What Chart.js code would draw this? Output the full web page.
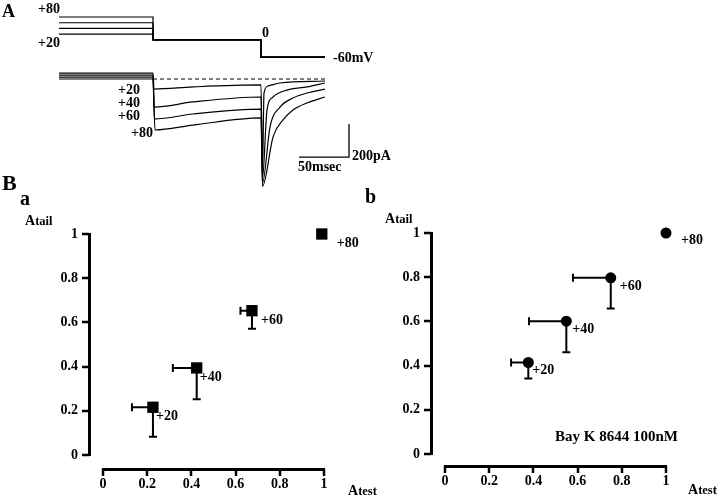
<!DOCTYPE html>
<html>
<head>
<meta charset="utf-8">
<script src="https://cdn.jsdelivr.net/npm/chart.js@4.4.1/dist/chart.umd.min.js"></script>
<style>
  body { margin: 0; background: #fff; }
  #fig { position: relative; width: 720px; height: 499px; overflow: hidden;
         font-family: 'Liberation Serif', 'Times New Roman', serif; font-weight: bold; color: #000; }
  .box { position: absolute; }
  .box canvas { display: block; }
  .t { position: absolute; white-space: nowrap; line-height: 1; font-size: 14px; }
  .sub { font-size: 12.5px; }
</style>
</head>
<body>
<div id="fig">
  <div class="box" style="left:0;top:0;width:400px;height:195px"><canvas id="chartA" width="400" height="195"></canvas></div>
  <div class="box" style="left:0;top:200px;width:360px;height:299px"><canvas id="chartBa" width="360" height="299"></canvas></div>
  <div class="box" style="left:360px;top:200px;width:360px;height:299px"><canvas id="chartBb" width="360" height="299"></canvas></div>

  <!-- panel A text -->
  <div class="t" style="left:2px;top:2px;font-size:18px">A</div>
  <div class="t" style="left:38px;top:2px">+80</div>
  <div class="t" style="left:38px;top:36px">+20</div>
  <div class="t" style="left:262px;top:26px">0</div>
  <div class="t" style="left:333px;top:51px">-60mV</div>
  <div class="t" style="left:118px;top:83px">+20</div>
  <div class="t" style="left:118px;top:96px">+40</div>
  <div class="t" style="left:118px;top:109px">+60</div>
  <div class="t" style="left:131px;top:126px">+80</div>
  <div class="t" style="left:352px;top:149px">200pA</div>
  <div class="t" style="left:298px;top:160px">50msec</div>

  <!-- panel B text -->
  <div class="t" style="left:2px;top:172px;font-size:22px">B</div>
  <div class="t" style="left:20px;top:188px;font-size:20px">a</div>
  <div class="t" style="left:365px;top:186px;font-size:20px">b</div>
  <div class="t" style="left:25px;top:214px;font-size:14px">A<span class="sub">tail</span></div>
  <div class="t" style="left:385px;top:212px;font-size:14px">A<span class="sub">tail</span></div>
  <div class="t" style="left:348px;top:484px;font-size:14px">A<span class="sub">test</span></div>
  <div class="t" style="left:688px;top:483px;font-size:14px">A<span class="sub">test</span></div>
  <div class="t" style="left:555px;top:429px;font-size:15px">Bay K 8644 100nM</div>
</div>

<script>
// ---------- panel A: voltage protocol (mV) and currents (pA), time in ms ----------
var prepulseLevels = [80, 60, 40, 20];
var testLevel = 0;
var tailLevel = -60;
var protocolTimes = [-94, 0, 108, 172]; // prepulse start, step to test, step to tail, end

var time20 = [-94, 0, 1, 40, 108, 109.5, 111, 115, 127, 172];
var curr20 = [36, 36, -61, -48, -36, -560, -85, -42, -24, -12];
var time40 = [-94, 0, 1, 40, 108, 109.5, 114, 120, 134, 154, 172];
var curr40 = [24, 24, -170, -139, -109, -600, -188, -109, -67, -48, -24];
var time60 = [-94, 0, 1.5, 40, 108, 109.5, 117, 127, 140, 154, 172];
var curr60 = [12, 12, -242, -212, -182, -630, -291, -170, -115, -85, -61];
var time80 = [-94, 0, 2, 40, 108, 109.5, 120, 130, 140, 154, 172];
var curr80 = [0, 0, -309, -279, -236, -650, -352, -248, -188, -145, -109];

var zeroTimes = [0, 172];
var zeroCurr = [0, 0];
var scaleBarT = [146, 196, 196];   // 50 msec
var scaleBarI = [-473, -473, -273]; // 200 pA

// ---------- panel B: normalised amplitudes ----------
var stepLabels = ['+20', '+40', '+60', '+80'];

// a: control
var testA = [0.226, 0.424, 0.674, 0.99];
var tailA = [0.216, 0.394, 0.653, 1.0];
var testErrA = [0.095, 0.108, 0.052, 0];
var tailErrA = [0.133, 0.142, 0.082, 0];

// b: Bay K 8644 100nM
var testB = [0.377, 0.549, 0.75, 1.0];
var tailB = [0.414, 0.601, 0.797, 1.0];
var testErrB = [0.078, 0.169, 0.171, 0];
var tailErrB = [0.072, 0.141, 0.139, 0];

function pts(xs, ys) {
    return xs.map(function (v, i) { return { x: v, y: ys[i] }; });
}

function line(data, axis, extra) {
    var ds = {
        data: data,
        yAxisID: axis,
        showLine: true,
        borderColor: '#000',
        borderWidth: 1.2,
        pointRadius: 0,
        fill: false
    };
    return Object.assign(ds, extra || {});
}

var datasetsA = [];
prepulseLevels.forEach(function (v) {
    var t = protocolTimes;
    datasetsA.push(line(pts([t[0], t[1], t[1], t[2], t[2], t[3]],
        [v, v, testLevel, testLevel, tailLevel, tailLevel]), 'yV'));
});
[[time20, curr20], [time40, curr40], [time60, curr60], [time80, curr80]].forEach(function (tr) {
    datasetsA.push(line(pts(tr[0], tr[1]), 'yI', { cubicInterpolationMode: 'monotone' }));
});
datasetsA.push(line(pts(zeroTimes, zeroCurr), 'yI', { borderDash: [4, 3], borderWidth: 1 }));
datasetsA.push(line(pts(scaleBarT, scaleBarI), 'yI', { borderWidth: 1.3 }));

new Chart(document.getElementById('chartA'), {
    type: 'scatter',
    data: { datasets: datasetsA },
    options: {
        responsive: false,
        animation: false,
        layout: { padding: 0 },
        plugins: { legend: { display: false }, tooltip: { enabled: false } },
        scales: {
            x: { type: 'linear', display: false, min: -153, max: 247 },
            yV: { type: 'linear', display: false, min: -542, max: 139.5 },
            yI: { type: 'linear', display: false, min: -703, max: 479 }
        }
    }
});

// ---------- helpers for the B panels ----------
var tickFont = { family: 'Liberation Serif', size: 14, weight: 'bold' };
var TICK_LEN = 7;

function axis(isX, size) {
    return {
        type: 'linear',
        min: 0,
        max: 1,
        ticks: {
            stepSize: 0.2,
            color: '#000',
            font: tickFont,
            padding: isX ? 7 : 11,
            callback: function (v) { return String(+v.toFixed(1)); }
        },
        grid: { display: false, drawTicks: false },
        border: { display: true, color: '#000', width: 3 },
        afterFit: function (scale) {
            if (isX) scale.height = size; else scale.width = size;
        }
    };
}

// detached axes: move axis lines away from the data area and add tick marks
function detachAxes(gapX, gapY) {
    return {
        id: 'detachAxes',
        afterLayout: function (chart) {
            chart.scales.y.left -= gapY;
            chart.scales.y.right -= gapY;
            chart.scales.x.top += gapX;
            chart.scales.x.bottom += gapX;
        },
        afterDraw: function (chart) {
            var ctx = chart.ctx, xs = chart.scales.x, ys = chart.scales.y;
            ctx.save();
            ctx.strokeStyle = '#000';
            ctx.lineWidth = 2.5;
            ctx.beginPath();
            xs.ticks.forEach(function (t) {
                var px = Math.round(xs.getPixelForValue(t.value));
                ctx.moveTo(px, xs.top);
                ctx.lineTo(px, xs.top + TICK_LEN);
            });
            ys.ticks.forEach(function (t) {
                var py = Math.round(ys.getPixelForValue(t.value));
                ctx.moveTo(ys.right, py);
                ctx.lineTo(ys.right - TICK_LEN, py);
            });
            ctx.stroke();
            ctx.restore();
        }
    };
}

// one-sided error bars: to the left and downwards
var errorBars = {
    id: 'errorBars',
    beforeDatasetsDraw: function (chart, args, opts) {
        var ctx = chart.ctx, xs = chart.scales.x, ys = chart.scales.y;
        var data = chart.data.datasets[0].data;
        ctx.save();
        ctx.strokeStyle = '#000';
        ctx.lineWidth = 2;
        data.forEach(function (p, i) {
            var px = xs.getPixelForValue(p.x), py = ys.getPixelForValue(p.y);
            ctx.beginPath();
            if (opts.xErr[i]) {
                var lx = xs.getPixelForValue(p.x - opts.xErr[i]);
                ctx.moveTo(px, py); ctx.lineTo(lx, py);
                ctx.moveTo(lx, py - 4); ctx.lineTo(lx, py + 4);
            }
            if (opts.yErr[i]) {
                var ly = ys.getPixelForValue(p.y - opts.yErr[i]);
                ctx.moveTo(px, py); ctx.lineTo(px, ly);
                ctx.moveTo(px - 4, ly); ctx.lineTo(px + 4, ly);
            }
            ctx.stroke();
        });
        ctx.restore();
    }
};

var pointLabels = {
    id: 'pointLabels',
    afterDatasetsDraw: function (chart, args, opts) {
        var ctx = chart.ctx;
        var meta = chart.getDatasetMeta(0);
        ctx.save();
        ctx.font = 'bold 14px "Liberation Serif"';
        ctx.fillStyle = '#000';
        ctx.textAlign = 'left';
        ctx.textBaseline = 'alphabetic';
        meta.data.forEach(function (el, i) {
            ctx.fillText(opts.labels[i], el.x + opts.offsets[i][0], el.y + opts.offsets[i][1]);
        });
        ctx.restore();
    }
};

function scatterPanel(id, xs, ys, xErr, yErr, style, radius, pad, gapX, gapY, offsets) {
    return new Chart(document.getElementById(id), {
        type: 'scatter',
        data: {
            datasets: [{
                data: pts(xs, ys),
                pointStyle: style,
                pointRadius: radius,
                backgroundColor: '#000',
                borderColor: '#000',
                borderWidth: 0,
                clip: false
            }]
        },
        options: {
            responsive: false,
            animation: false,
            layout: { padding: pad },
            plugins: {
                legend: { display: false },
                tooltip: { enabled: false },
                errorBars: { xErr: xErr, yErr: yErr },
                pointLabels: { labels: stepLabels, offsets: offsets }
            },
            scales: { x: axis(true, 30), y: axis(false, 40) }
        },
        plugins: [detachAxes(gapX, gapY), errorBars, pointLabels]
    });
}

scatterPanel('chartBa', testA, tailA, testErrA, tailErrA, 'rect', 8,
    { left: 63, top: 34, right: 36, bottom: 14 }, 14, 14,
    [[3, 13], [3, 13], [9, 13], [15, 13]]);

scatterPanel('chartBb', testB, tailB, testErrB, tailErrB, 'circle', 5.5,
    { left: 45, top: 33, right: 54, bottom: 15 }, 12, 14,
    [[4, 11], [6, 12], [9, 12], [15, 11]]);
</script>
</body>
</html>
